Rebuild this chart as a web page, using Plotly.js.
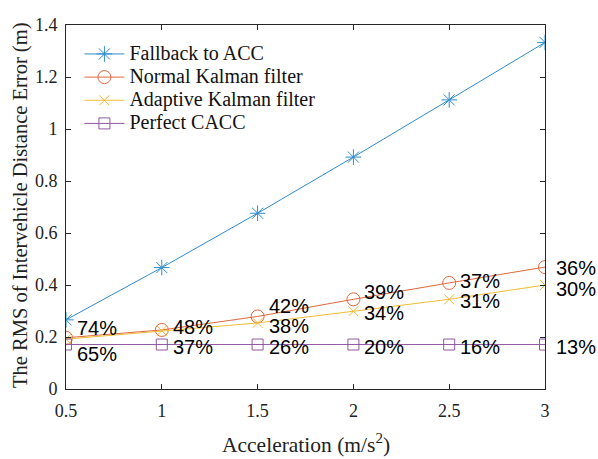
<!DOCTYPE html>
<html>
<head>
<meta charset="utf-8">
<script src="https://cdn.plot.ly/plotly-3.0.1.min.js"></script>
<style>
  html, body { margin: 0; padding: 0; background: #ffffff; }
  #chart { width: 598px; height: 459px; }
</style>
</head>
<body>
<div id="chart"></div>
<script>
// Acceleration levels (m/s^2)
const accel = [0.5, 1, 1.5, 2, 2.5, 3];

// RMS of inter-vehicle distance error (m) for each strategy
const fallbackACC = [0.266, 0.467, 0.676, 0.892, 1.112, 1.333];
const normalKF    = [0.197, 0.227, 0.279, 0.345, 0.408, 0.469];
const adaptiveKF  = [0.192, 0.224, 0.254, 0.299, 0.345, 0.400];
const perfectCACC = [0.171, 0.171, 0.171, 0.171, 0.171, 0.171];

// Ratio to the fallback error, in percent (null = no label)
const normalPct   = [74, 48, 42, 39, 37, 36];
const adaptivePct = [null, null, 38, 34, 31, 30];
const perfectPct  = [65, 37, 26, 20, 16, 13];

const seriesNames = ['Fallback to ACC', 'Normal Kalman filter', 'Adaptive Kalman filter', 'Perfect CACC'];

const colors = ['#2f8ccc', '#e0683f', '#eebc35', '#9158a3'];

// legend rows are spaced by the legend font size; entry text is enlarged inline
function legendLabel(name) {
  return '<span style="font-size:20px">' + name + '</span>';
}

function line(y, name, color, symbol, size) {
  return {
    x: accel, y: y, name: legendLabel(name), type: 'scatter', mode: 'lines+markers',
    line: { color: color, width: 1 },
    marker: { symbol: symbol, size: size, color: color, line: { color: color, width: 1 } }
  };
}

const traces = [
  line(fallbackACC, seriesNames[0], colors[0], 'asterisk-open', 13),
  line(normalKF,    seriesNames[1], colors[1], 'circle-open', 13),
  line(adaptiveKF,  seriesNames[2], colors[2], 'x-thin-open', 10),
  line(perfectCACC, seriesNames[3], colors[3], 'square-open', 11)
];

// vertical nudges (px) so the percentage labels do not collide
const normalShift   = [10, 3, 10, 7, 2, -1];
const adaptiveShift = [0, 0, -3, -2, -2, -4];
const perfectShift  = [-9, -2, -2, -2, -2, -2];

const pctFont = { family: 'Liberation Sans, Arial, sans-serif', size: 20, color: '#000000' };
const annotations = [];
function addPct(values, pcts, shifts) {
  for (let i = 0; i < accel.length; i++) {
    if (pcts[i] === null) continue;
    annotations.push({
      x: accel[i], y: values[i], xref: 'x', yref: 'y',
      text: pcts[i] + '%', showarrow: false,
      xanchor: 'left', yanchor: 'middle', xshift: 9, yshift: shifts[i],
      font: pctFont
    });
  }
}
addPct(normalKF, normalPct, normalShift);
addPct(adaptiveKF, adaptivePct, adaptiveShift);
addPct(perfectCACC, perfectPct, perfectShift);

const serif = 'Liberation Serif, Times New Roman, serif';

// axis titles
annotations.push({
  xref: 'paper', yref: 'paper', x: 0.5, y: 0, yshift: -54,
  xanchor: 'center', yanchor: 'middle', showarrow: false,
  text: 'Acceleration (m/s<sup>2</sup>)',
  font: { family: serif, size: 21.5, color: '#222222' }
});
annotations.push({
  xref: 'paper', yref: 'paper', x: 0, y: 0.5, xshift: -46, yshift: 1,
  xanchor: 'center', yanchor: 'middle', showarrow: false, textangle: -90,
  text: 'The RMS of Intervehicle Distance Error (m)',
  font: { family: serif, size: 20.5, color: '#222222' }
});

const axisCommon = {
  showgrid: false, zeroline: false, showline: true, mirror: 'ticks',
  linecolor: '#262626', linewidth: 1,
  ticks: 'inside', ticklen: 5, tickwidth: 1, tickcolor: '#262626',
  tickfont: { family: serif, size: 18, color: '#222222' }
};

const layout = {
  width: 598, height: 459,
  margin: { l: 66, r: 53, t: 25, b: 70 },
  paper_bgcolor: '#ffffff', plot_bgcolor: '#ffffff',
  showlegend: true,
  legend: {
    x: 0.028, y: 0.966, xanchor: 'left', yanchor: 'top',
    bgcolor: 'rgba(255,255,255,0)', borderwidth: 0,
    font: { family: serif, size: 15.5, color: '#111111' },
    itemwidth: 40,
    tracegroupgap: 0
  },
  xaxis: Object.assign({}, axisCommon, {
    range: [0.5, 3], tickvals: accel, ticktext: ['0.5', '1', '1.5', '2', '2.5', '3'],
    ticklabelstandoff: 5
  }),
  yaxis: Object.assign({}, axisCommon, {
    range: [0, 1.4], dtick: 0.2, tick0: 0, ticklabelstandoff: 4
  }),
  annotations: annotations
};

Plotly.newPlot('chart', traces, layout, { displayModeBar: false, staticPlot: true });
</script>
</body>
</html>
